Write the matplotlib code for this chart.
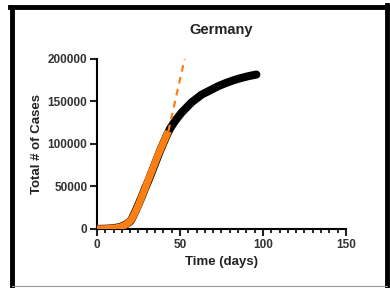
import matplotlib
matplotlib.use("Agg")
import matplotlib.pyplot as plt
from matplotlib.lines import Line2D
from matplotlib.ticker import MultipleLocator

plt.rcParams['font.family'] = ['Liberation Sans', 'DejaVu Sans']

# Observed total cases (thousands) per day
days = list(range(0, 97))
cases_k = [0.1, 0.1, 0.15, 0.2, 0.25, 0.3, 0.4, 0.5, 0.6, 0.8, 1.0,
           1.3, 1.6, 2.0, 2.5, 3.2, 4.0, 5.0, 6.2, 7.5, 9.0,
           12, 16, 20, 24.5, 29, 33.5, 38, 43, 48, 52.5, 57, 62, 67, 72, 77,
           82, 87, 92, 96.5, 101, 105.5, 110, 114,
           118, 121, 124, 127, 129.5, 132, 134.5, 137, 139, 141, 143, 145, 147,
           149, 150.5, 152, 153.5, 155, 156.5, 158, 159, 160, 161, 162, 163,
           164, 165, 166, 167, 168, 168.8, 169.6, 170.4, 171.2, 172, 172.7,
           173.4, 174.1, 174.8, 175.4, 176, 176.6, 177.2, 177.7, 178.2, 178.7,
           179.2, 179.7, 180.1, 180.5, 180.9, 181.3, 181.7]

# Fitted early phase (thousands)
fit_days = list(range(0, 44))
fit_k = [0.0, 0.1, 0.1, 0.2, 0.2, 0.3, 0.4, 0.5, 0.6, 0.8, 1.0,
         1.2, 1.5, 1.9, 2.4, 3.0, 3.8, 4.8, 6.0, 7.6, 9.5,
         12, 15.5, 19.5, 24, 28.5, 33, 38, 43, 48, 53, 58, 63, 68, 73, 78,
         83, 88, 92.5, 97, 101.5, 106, 110.5, 115]

# Extrapolated fit (dashed)
ext_days = [43, 53]
ext_k = [115, 202]

fig = plt.figure(figsize=(3.9, 2.88), dpi=100)
ax = fig.add_axes([0.2487, 0.2049, 0.6384, 0.5903])

ax.plot(days, [v * 1000 for v in cases_k], color='black', lw=5.8,
        solid_capstyle='round', zorder=2)
ax.plot(fit_days, [v * 1000 for v in fit_k], color='#fb7f12', lw=5.2,
        solid_capstyle='butt', zorder=3)
ax.plot(ext_days, [v * 1000 for v in ext_k], color='#fb7f12', lw=1.6,
        ls=(0, (3, 2.5)), zorder=3)

ax.set_xlim(0, 150)
ax.set_ylim(0, 200000)
ax.set_xticks([0, 50, 100, 150])
ax.set_yticks([0, 50000, 100000, 150000, 200000])
ax.xaxis.set_minor_locator(MultipleLocator(5))
for s in ['top', 'right']:
    ax.spines[s].set_visible(False)
for s in ['left', 'bottom']:
    ax.spines[s].set_linewidth(1.5)
ax.tick_params(axis='both', which='major', length=5, width=1.5,
               labelsize=8.5, colors='#222222', pad=2)
ax.tick_params(axis='x', which='minor', length=3, width=1.2)
for lab in ax.get_xticklabels() + ax.get_yticklabels():
    lab.set_fontweight('bold')
    lab.set_color('#333333')
ax.set_title('Germany', fontsize=10.5, fontweight='bold', pad=18, color='#222222')
ax.set_xlabel('Time (days)', fontsize=9.5, fontweight='bold', labelpad=4, color='#222222')
ax.set_ylabel('Total # of Cases', fontsize=9.5, fontweight='bold', labelpad=3, color='#222222')

# figure frame
fig.lines.append(Line2D([0.032, 0.032], [-0.05, 0.9757], transform=fig.transFigure, color='black', lw=3.5))
fig.lines.append(Line2D([0.026, 0.992], [0.9757, 0.9757], transform=fig.transFigure, color='black', lw=3.5))
fig.lines.append(Line2D([0.992, 0.992], [-0.05, 0.982], transform=fig.transFigure, color='black', lw=3.5))
fig.lines.append(Line2D([0.032, 0.992], [0.006, 0.006], transform=fig.transFigure, color='#999999', lw=0.8))

fig.savefig('out.png', dpi=100)
